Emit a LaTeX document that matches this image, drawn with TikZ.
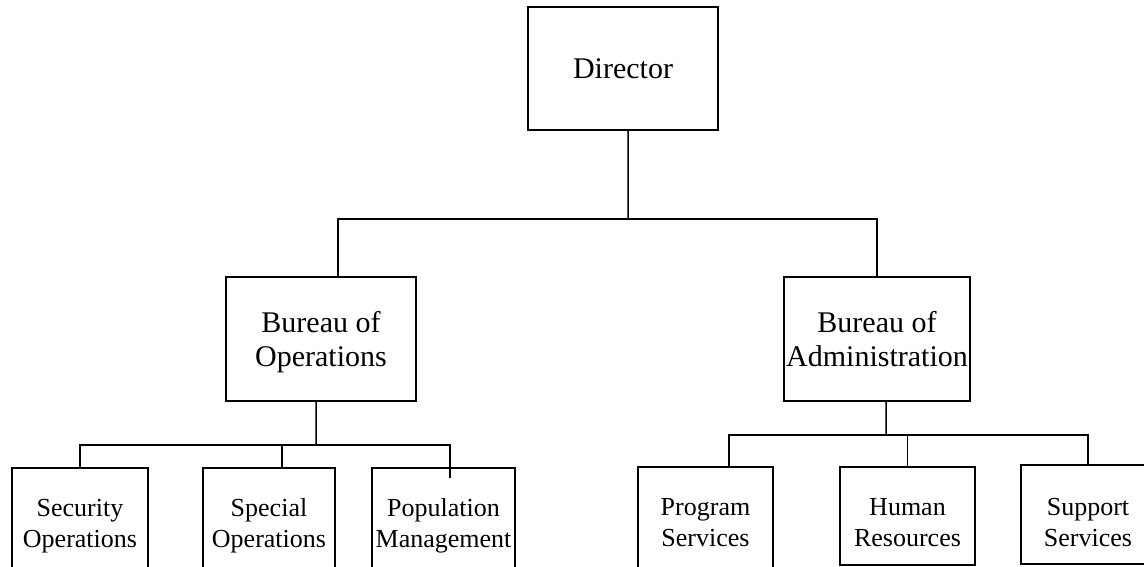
\documentclass[tikz,border=0pt]{standalone}
\usepackage{fontspec}
\setmainfont{Liberation Serif}
\begin{document}
\begin{tikzpicture}[
  x=0.4pt, y=-0.4pt,
  line width=0.6pt,
  box/.style={draw, align=center, inner sep=0pt, text depth=0pt},
  head/.style={box, font={\fontsize{12}{13.6}\selectfont}},
  unit/.style={box, font={\fontsize{10.4}{12.4}\selectfont}, minimum width=54pt, minimum height=44pt}
]
  \useasboundingbox (0,0) rectangle (1144,566);
  \clip (0,0) rectangle (1144,566);

  % top and bureau level
  \node[head, minimum width=76pt, minimum height=49.2pt] (dir) at (623,68.5) {Director};
  \node[head, minimum width=76pt, minimum height=49.6pt] (ops) at (321,339) {Bureau of\\Operations};
  \node[head, minimum width=74.4pt, minimum height=49.6pt] (adm) at (877,339) {Bureau of\\Administration};

  % divisions
  \node[unit, minimum width=54.4pt] (sec) at (80,523) {Security\\Operations};
  \node[unit, minimum width=52.8pt] (spec) at (269,523) {Special\\Operations};
  \node[unit, minimum width=57.2pt] (pop) at (443.5,523) {Population\\Management};
  \node[unit] (prog) at (705.5,522) {Program\\Services};
  \node[unit, minimum height=39.2pt, text height=24.2pt] (hr) at (907.5,516) {Human\\Resources};
  \node[unit, minimum width=53.6pt, minimum height=39.6pt, text height=25.4pt] (sup) at (1088,514.5) {Support\\Services};

  % connectors
  \coordinate (j0) at (628,219);
  \coordinate (j1) at (316,445);
  \coordinate (j2) at (886,435);
  \draw ([xshift=2pt]dir.south) -- (j0);
  \draw ([xshift=6.8pt]ops.north) |- (j0) -| (adm.north);
  \draw ([xshift=-2pt]ops.south) -- (j1);
  \draw (sec.north) |- (j1) -| ([xshift=2.6pt,yshift=-4.4pt]pop.north);
  \draw ([xshift=5.2pt]spec.north) -- ([xshift=5.2pt]spec.north |- j1);
  \draw ([xshift=3.6pt]adm.south) -- (j2);
  \draw ([xshift=9.4pt]prog.north) |- (j2) -| (sup.north);
  \draw (hr.north) -- (hr.north |- j2);
\end{tikzpicture}
\end{document}
